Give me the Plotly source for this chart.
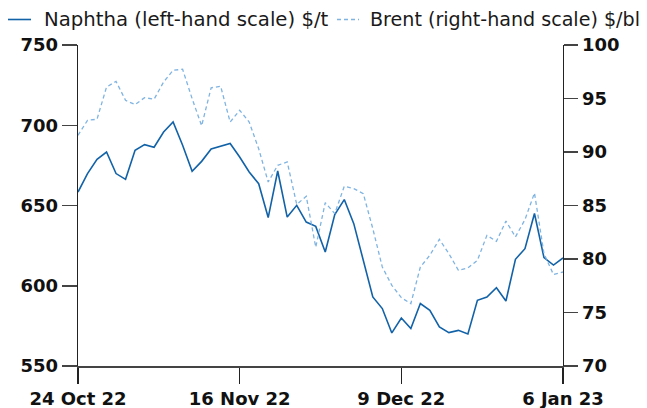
import pandas as pd
import plotly.graph_objects as go

# trading days (UK holidays 26-27 Dec and 2 Jan excluded)
holidays = ["2022-12-26", "2022-12-27", "2023-01-02"]
dates = [d.strftime("%Y-%m-%d") for d in pd.bdate_range("2022-10-24", "2023-01-06")
         if d.strftime("%Y-%m-%d") not in holidays]

naphtha = [658.4, 669.9, 678.8, 683.3, 669.9, 666.3, 684.4, 687.9, 686.3, 695.8,
           702.0, 687.5, 671.3, 677.5, 685.2, 687.0, 688.6, 680.2, 670.9, 663.6,
           642.5, 671.5, 642.8, 650.1, 639.7, 637.0, 621.0, 644.3, 653.7, 638.7,
           615.9, 593.0, 585.8, 570.6, 579.9, 573.3, 588.9, 584.7, 574.3, 570.8,
           572.2, 570.0, 590.9, 593.0, 598.8, 590.5, 616.5, 623.1, 645.0, 617.5,
           612.9, 617.3]

brent = [91.56, 92.96, 93.06, 96.07, 96.6, 94.83, 94.43, 95.08, 94.93, 96.54,
         97.64, 97.73, 94.99, 92.45, 96.0, 96.14, 92.8, 93.9, 92.8, 90.3,
         87.2, 88.76, 89.07, 85.1, 85.86, 81.1, 85.27, 84.24, 86.8, 86.58,
         86.11, 82.84, 79.25, 77.54, 76.39, 75.83, 79.25, 80.35, 81.84, 80.5,
         78.94, 79.16, 79.88, 82.21, 81.65, 83.55, 82.06, 83.68, 86.17, 80.5,
         78.54, 78.79]

tick_dates = ["2022-10-24", "2022-11-16", "2022-12-09", "2023-01-06"]
tick_labels = ["24 Oct 22", "16 Nov 22", "9 Dec 22", "6 Jan 23"]

legend_names = ["Naphtha (left-hand scale) $/t", "Brent (right-hand scale) $/bl"]

NAPHTHA_COL = "#1262a8"
BRENT_COL = "#7fb4e2"
TICK_FONT = dict(family="DejaVu Sans", size=18, color="#111", weight="bold")
LEG_FONT = dict(family="DejaVu Sans", size=19.7, color="#1a1a1a")
LEG_FONT2 = dict(family="DejaVu Sans", size=19.1, color="#1a1a1a")

fig = go.Figure()
fig.add_trace(go.Scatter(x=dates, y=naphtha, mode="lines", name=legend_names[0],
                         line=dict(color=NAPHTHA_COL, width=1.6), yaxis="y"))
fig.add_trace(go.Scatter(x=dates, y=brent, mode="lines", name=legend_names[1],
                         line=dict(color=BRENT_COL, width=1.3, dash="4px,3px"), yaxis="y2"))

W, H = 647, 408
L, R, T, B = 78, 84, 45, 42
pw = W - L - R

fig.update_layout(
    width=W, height=H,
    margin=dict(l=L, r=R, t=T, b=B, autoexpand=False),
    paper_bgcolor="white", plot_bgcolor="white",
    showlegend=False,
    font=dict(family="DejaVu Sans", color="#111"),
    xaxis=dict(type="category", range=[0, len(dates) - 1], automargin=False,
               tickmode="array", tickvals=tick_dates, ticktext=tick_labels,
               showline=True, linecolor="#444", linewidth=1.5,
               ticks="outside", ticklen=16, tickcolor="#222", tickwidth=1.3,
               showgrid=False, zeroline=False, tickfont=TICK_FONT),
    yaxis=dict(range=[550, 750], tickmode="linear", tick0=550, dtick=50, automargin=False,
               showline=True, linecolor="#222", linewidth=1.3,
               ticks="outside", ticklen=15, tickcolor="#444", tickwidth=1.5,
               showgrid=False, zeroline=False, tickfont=TICK_FONT),
    yaxis2=dict(range=[70, 100], tickmode="linear", tick0=70, dtick=5, automargin=False,
                overlaying="y", side="right", anchor="x",
                showline=True, linecolor="#222", linewidth=1.3,
                ticks="outside", ticklen=14, tickcolor="#444", tickwidth=1.5,
                showgrid=False, zeroline=False, tickfont=TICK_FONT),
)

# manual legend along the top
def px2paper(x):
    return (x - L) / pw

leg_y = 1 + 25.5 / (H - T - B)
fig.add_shape(type="line", xref="paper", yref="paper",
              x0=px2paper(8), x1=px2paper(31), y0=leg_y, y1=leg_y,
              line=dict(color=NAPHTHA_COL, width=1.6))
fig.add_shape(type="line", xref="paper", yref="paper",
              x0=px2paper(337), x1=px2paper(359), y0=leg_y, y1=leg_y,
              line=dict(color=BRENT_COL, width=1.3, dash="4px,3px"))
fig.add_annotation(text=legend_names[0], xref="paper", yref="paper",
                   x=px2paper(42), y=leg_y, xanchor="left", yanchor="middle",
                   showarrow=False, font=LEG_FONT)
fig.add_annotation(text=legend_names[1], xref="paper", yref="paper",
                   x=px2paper(368), y=leg_y, xanchor="left", yanchor="middle",
                   showarrow=False, font=LEG_FONT2)

fig.write_html("out.html",
               config={"displayModeBar": False, "staticPlot": True},
               post_script="document.body.style.margin='0';document.body.style.overflow='hidden';")
